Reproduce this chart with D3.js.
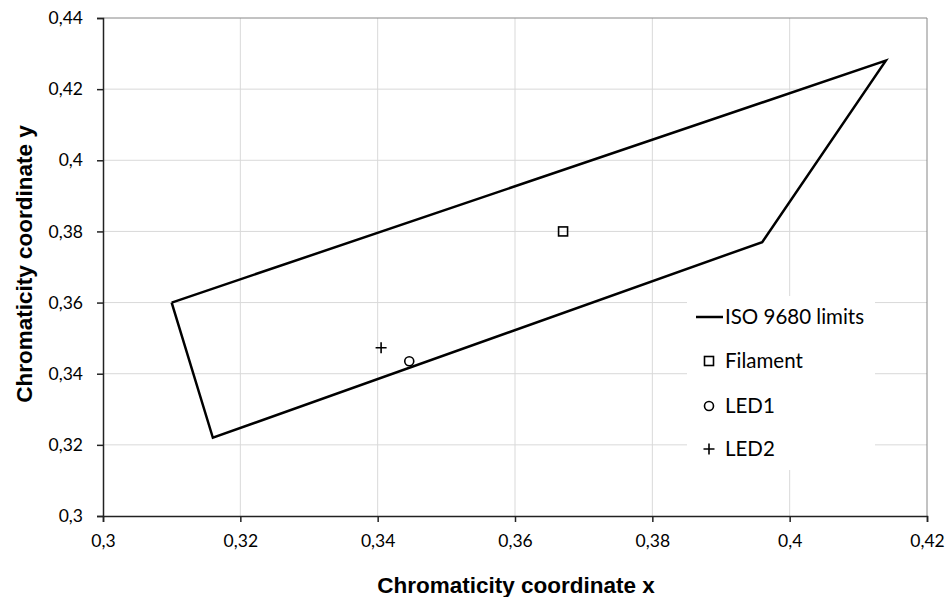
<!DOCTYPE html>
<html><head><meta charset="utf-8">
<script src="https://cdn.jsdelivr.net/npm/d3@7"></script>
<style>body{margin:0;background:#fff}svg{display:block}</style>
</head><body>
<svg id="c" width="947" height="597"></svg>
<script>
const xTicks = [0.3,0.32,0.34,0.36,0.38,0.4,0.42];
const yTicks = [0.3,0.32,0.34,0.36,0.38,0.4,0.42,0.44];
const limitX = [0.31,0.316,0.396,0.414,0.31];
const limitY = [0.36,0.322,0.377,0.428,0.36];
const seriesNames = ["Filament","LED1","LED2"];
const seriesX = [0.367,0.3446,0.3405];
const seriesY = [0.380,0.3435,0.3473];
const limitName = "ISO 9680 limits";
const xTitle = "Chromaticity coordinate x";
const yTitle = "Chromaticity coordinate y";

const fmt = d => String(+d.toFixed(2)).replace(".", ",");
const svg = d3.select("#c");
const L=103, R=927, T=18, B=516;
const x = d3.scaleLinear().domain([0.3,0.42]).range([L,R]);
const y = d3.scaleLinear().domain([0.3,0.44]).range([B,T]);
const tickFont = "Lato, 'Open Sans', sans-serif";

// gridlines
svg.append("g").selectAll("line").data(xTicks.slice(1,-1)).join("line")
  .attr("x1",d=>x(d)).attr("x2",d=>x(d)).attr("y1",T).attr("y2",B)
  .attr("stroke","#d9d9d9").attr("stroke-width",1);
svg.append("g").selectAll("line").data(yTicks.slice(1,-1)).join("line")
  .attr("x1",L).attr("x2",R).attr("y1",d=>y(d)).attr("y2",d=>y(d))
  .attr("stroke","#d9d9d9").attr("stroke-width",1);
// frame top/right
svg.append("path").attr("d",`M${L},${T}H${R}V${B}`).attr("fill","none").attr("stroke","#868686").attr("stroke-width",1);

// axes
const xa = svg.append("g").attr("transform",`translate(0,${B})`)
  .call(d3.axisBottom(x).tickValues(xTicks).tickFormat(fmt).tickSize(6).tickPadding(13));
const ya = svg.append("g").attr("transform",`translate(${L},0)`)
  .call(d3.axisLeft(y).tickValues(yTicks).tickFormat(fmt).tickSize(6).tickPadding(14));
[xa,ya].forEach(a=>{
  a.selectAll("path,line").attr("stroke","#222").attr("stroke-width",1.5);
  a.selectAll("text").attr("font-family",tickFont).attr("font-size",17.5).attr("fill","#000");
});

// limits polygon
const line = d3.line().x(d=>x(d[0])).y(d=>y(d[1]));
svg.append("path").datum(limitX.map((v,i)=>[v,limitY[i]]))
  .attr("d",line).attr("fill","none").attr("stroke","#000").attr("stroke-width",2.5).attr("stroke-linejoin","miter");

// markers
function marker(g, i, cx, cy){
  if(i===0){
    g.append("rect").attr("x",cx-4.5).attr("y",cy-4.5).attr("width",9).attr("height",9)
      .attr("fill","none").attr("stroke","#000").attr("stroke-width",1.6);
  } else if(i===1){
    g.append("circle").attr("cx",cx).attr("cy",cy).attr("r",4.5)
      .attr("fill","none").attr("stroke","#000").attr("stroke-width",1.6);
  } else {
    g.append("path").attr("d",`M${cx-5.5},${cy}H${cx+5.5}M${cx},${cy-5.5}V${cy+5.5}`)
      .attr("stroke","#000").attr("stroke-width",1.6);
  }
}
const pts = svg.append("g");
seriesX.forEach((v,i)=>marker(pts,i,x(v),y(seriesY[i])));

// legend
const lg = svg.append("g");
lg.append("rect").attr("x",687).attr("y",296).attr("width",188).attr("height",174).attr("fill","#fff");
const ly = [317,361,406,449];
lg.append("line").attr("x1",696).attr("x2",723).attr("y1",ly[0]).attr("y2",ly[0]).attr("stroke","#000").attr("stroke-width",2.5);
lg.append("text").attr("x",725).attr("y",ly[0]).attr("dy","0.36em").text(limitName);
seriesNames.forEach((n,i)=>{
  marker(lg,i,709,ly[i+1]);
  lg.append("text").attr("x",725).attr("y",ly[i+1]).attr("dy","0.36em").text(n);
});
lg.selectAll("text").attr("font-family",tickFont).attr("font-size",20.5).attr("fill","#000");

// titles
svg.append("text").attr("x",516).attr("y",593).attr("text-anchor","middle")
  .attr("font-family","'Liberation Sans', Arial, sans-serif").attr("font-weight","bold").attr("font-size",22.5).text(xTitle);
svg.append("text").attr("transform",`translate(32,264) rotate(-90)`).attr("text-anchor","middle")
  .attr("font-family","'Liberation Sans', Arial, sans-serif").attr("font-weight","bold").attr("font-size",22.5).text(yTitle);
</script>
</body></html>
